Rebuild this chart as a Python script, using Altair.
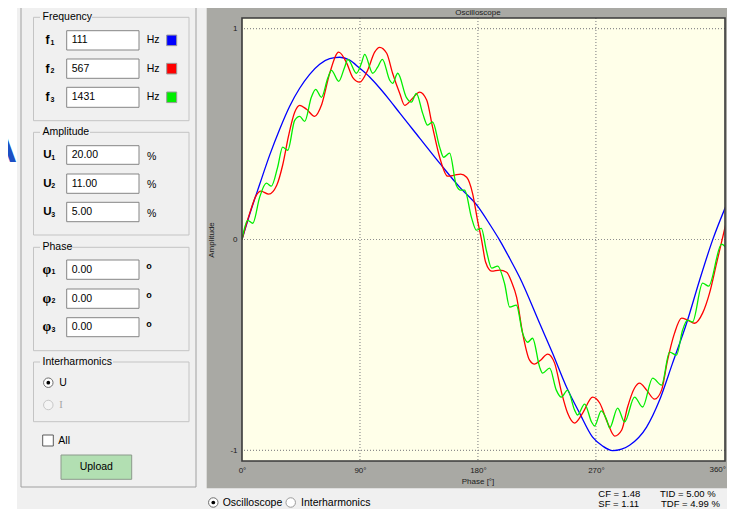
import altair as alt
import pandas as pd

# ---------------- data ----------------
series_names = ["f1", "f2", "f3"]
series_colors = ["#0000ff", "#ff0000", "#00ee00"]

blue_phase = [0, 5.87, 13.5, 21.11, 28.75, 36.38, 44.0, 51.63, 59.26, 66.88, 74.51, 82.14, 89.77,
              97.39, 105.02, 112.65, 120.27, 135.53, 150.78, 166.04, 179.77, 188.92, 196.55, 204.18,
              211.8, 227.06, 236.97, 247.65, 257.57, 267.48, 275.11, 282.73, 289.6, 295.7, 308.67,
              318.59, 328.5, 339.18, 349.1, 359.01, 368.93]
blue_amp = [0, 0.120, 0.262, 0.400, 0.523, 0.632, 0.717, 0.783, 0.831, 0.857, 0.864, 0.850, 0.812,
            0.770, 0.718, 0.661, 0.600, 0.481, 0.362, 0.248, 0.158, 0.073, -0.003, -0.089, -0.179,
            -0.397, -0.539, -0.700, -0.823, -0.937, -0.979, -1.001, -0.994, -0.975, -0.889, -0.761,
            -0.586, -0.397, -0.193, -0.003, 0.155]

red_phase = [0, 5.9, 11.0, 14.3, 20.4, 26.5, 31.0, 35.6, 40.2, 44.0, 49.3, 55.4, 60.8, 66.9, 73.8,
             79.9, 84.4, 89.8, 95.9, 101.2, 105.0, 110.4, 114.9, 120.3, 124.1, 130.2, 135.5, 140.9,
             145.4, 150.8, 156.9, 162.2, 166.8, 171.4, 175.9, 179.7, 182.8, 185.9, 190.5, 196.5,
             201.9, 205.7, 209.5, 214.1, 219.4, 223.2, 227.8, 233.2, 238.5, 243.9, 248.4, 253.8,
             259.9, 267.5, 272.9, 279.0, 284.3, 289.7, 294.2, 299.5, 303.3, 308.7, 314.8, 320.1,
             324.7, 330.0, 335.4, 339.9, 345.3, 351.4, 356.7, 362.1, 368.9]
red_amp = [0, 0.125, 0.21, 0.229, 0.215, 0.257, 0.352, 0.494, 0.603, 0.636, 0.617, 0.584, 0.640,
           0.788, 0.888, 0.836, 0.769, 0.746, 0.803, 0.888, 0.911, 0.883, 0.788, 0.693, 0.636,
           0.670, 0.699, 0.661, 0.533, 0.390, 0.300, 0.305, 0.310, 0.295, 0.219, 0.091, -0.003,
           -0.108, -0.150, -0.145, -0.155, -0.202, -0.273, -0.444, -0.572, -0.591, -0.572, -0.543,
           -0.586, -0.728, -0.823, -0.870, -0.823, -0.747, -0.775, -0.870, -0.932, -0.903, -0.794,
           -0.704, -0.681, -0.714, -0.757, -0.714, -0.572, -0.444, -0.373, -0.382, -0.397, -0.349,
           -0.254, -0.112, 0.068]

green_phase = [0, 4.3, 8.2, 13.5, 18.6, 22.4, 27.2, 31.0, 34.9, 40.2, 44.0, 47.8, 52.9, 56.2, 60.6,
               65.4, 68.2, 73.8, 78.3, 80.8, 87.3, 91.1, 93.6, 99.7, 103.5, 107.1, 112.7, 114.9,
               118.8, 125.4, 129.2, 133.0, 137.8, 141.6, 145.4, 150.8, 153.8, 158.4, 163.5, 166.8,
               169.9, 175.0, 178.8, 182.6, 186.4, 190.5, 195.0, 200.4, 204.2, 209.3, 214.1, 217.9,
               221.7, 227.1, 229.3, 234.7, 239.8, 243.6, 248.4, 253.8, 256.0, 261.4, 266.7, 269.0,
               274.1, 278.2, 280.5, 286.6, 291.9, 299.5, 305.6, 313.3, 320.1, 326.2, 331.5, 336.1,
               339.9, 343.7, 351.4, 356.0, 365.9, 368.9]
green_amp = [0, 0.091, 0.077, 0.201, 0.267, 0.253, 0.343, 0.438, 0.423, 0.565, 0.584, 0.560, 0.674,
             0.712, 0.674, 0.764, 0.802, 0.750, 0.817, 0.854, 0.788, 0.835, 0.878, 0.788, 0.817,
             0.854, 0.755, 0.740, 0.788, 0.674, 0.651, 0.693, 0.599, 0.542, 0.557, 0.438, 0.390,
             0.409, 0.257, 0.234, 0.234, 0.106, 0.044, 0.053, -0.051, -0.136, -0.126, -0.211,
             -0.320, -0.311, -0.444, -0.487, -0.468, -0.605, -0.633, -0.610, -0.714, -0.747, -0.714,
             -0.809, -0.832, -0.780, -0.865, -0.884, -0.812, -0.855, -0.893, -0.799, -0.865, -0.747,
             -0.794, -0.657, -0.690, -0.534, -0.548, -0.430, -0.382, -0.391, -0.207, -0.221, -0.022,
             -0.036]

x_ticks = [0, 90, 180, 270]
last_tick_label = "360°"
y_ticks = [-1, 0, 1]
grid_phase = [90, 180, 270]
grid_amp = [-1, 0, 1]

freq_labels = ["111", "567", "1431"]
amp_labels = ["20.00", "11.00", "5.00"]
phase_labels = ["0.00", "0.00", "0.00"]
stats_top = ["CF =  1.48", "TID =  5.00 %"]
stats_bottom = ["SF =  1.11", "TDF =  4.99 %"]

# ---------------- build ----------------
rows = []
for name, ph, am in [("f1", blue_phase, blue_amp), ("f2", red_phase, red_amp), ("f3", green_phase, green_amp)]:
    for p, a in zip(ph, am):
        rows.append({"series": name, "phase": p, "amp": a})
curves = pd.DataFrame(rows)

OX, OY = 242, 18      # page position of the plot area
W, H = 483, 443
FONT = "Liberation Sans"
one = pd.DataFrame({"k": [0]})
layers = []


def rect(x1, y1, x2, y2, fill="#ffffff", stroke=None, sw=1.0, opacity=1.0):
    kw = dict(fill=fill, fillOpacity=opacity)
    if stroke:
        kw["stroke"] = stroke
        kw["strokeWidth"] = sw
    layers.append(alt.Chart(one).mark_rect(**kw).encode(
        x=alt.value(x1 - OX), x2=alt.value(x2 - OX), y=alt.value(y1 - OY), y2=alt.value(y2 - OY)))


def text(s, x, y, size=10.5, color="#000000", align="left", weight="normal", font=FONT, angle=0):
    layers.append(alt.Chart(one).mark_text(
        text=s, align=align, baseline="middle", fontSize=size, color=color, font=font,
        fontWeight=weight, angle=angle).encode(x=alt.value(x - OX), y=alt.value(y - OY)))


def dot(x, y, size, fill, stroke=None):
    kw = dict(shape="circle", filled=True, fill=fill, size=size, opacity=1)
    if stroke:
        kw["stroke"] = stroke
        kw["strokeWidth"] = 1
    layers.append(alt.Chart(one).mark_point(**kw).encode(x=alt.value(x - OX), y=alt.value(y - OY)))


# white strip and the big letter
rect(0, 0, 17, 517, fill="#ffffff")
text("A", 17, 149, size=42, color="#1c4fc4", align="right", weight="bold")

# left control panel
rect(21, -2, 196, 487, fill="#f0f0f0", stroke="#a0a0a0")


def group(y1, y2, title, tw):
    rect(33.5, y1, 189, y2, fill="#f0f0f0", stroke="#c4c4c4")
    rect(40, y1 - 6, 42 + tw + 3, y1 + 6, fill="#f0f0f0")
    text(title, 42.5, y1, size=10.5)


group(17.3, 120.7, "Frequency", 47)
group(132.3, 235, "Amplitude", 45)
group(247.3, 350.7, "Phase", 24)
group(362, 421.7, "Interharmonics", 68)

sq_colors = series_colors
freq_rows = [(30.7, 50.0), (59.0, 78.3), (87.3, 107.3)]
for i, (y1, y2) in enumerate(freq_rows):
    cy = (y1 + y2) / 2
    text("f", 45.5, cy, size=12, weight="bold")
    text(str(i + 1), 50.5, cy + 2.5, size=7, weight="bold")
    rect(66.7, y1, 139, y2, fill="#ffffff", stroke="#858585")
    text(freq_labels[i], 71.7, cy, size=10.5)
    text("Hz", 146.7, cy, size=10.5)
    rect(166.7, cy - 5.3, 176.7, cy + 5.3, fill=sq_colors[i], stroke="#9a9a9a")

amp_rows = [(145.7, 164.3), (174.0, 193.3), (202.3, 221.7)]
for i, (y1, y2) in enumerate(amp_rows):
    cy = (y1 + y2) / 2
    text("U", 43.3, cy, size=11.5, weight="bold")
    text(str(i + 1), 51.3, cy + 2.5, size=7, weight="bold")
    rect(66.7, y1, 139, y2, fill="#ffffff", stroke="#858585")
    text(amp_labels[i], 71.7, cy, size=10.5)
    text("%", 147, cy + 1.5, size=10.5)

ph_rows = [(260.0, 279.3), (289.0, 308.3), (317.7, 336.7)]
for i, (y1, y2) in enumerate(ph_rows):
    cy = (y1 + y2) / 2
    text("φ", 42.5, cy, size=14, weight="bold", font="Liberation Serif")
    text(str(i + 1), 51.5, cy + 2.5, size=7, weight="bold")
    rect(66.7, y1, 139, y2, fill="#ffffff", stroke="#858585")
    text(phase_labels[i], 71.7, cy, size=10.5)
    text("o", 149, cy - 3.5, size=9, weight="bold", align="center")

# interharmonics radios
dot(48.3, 382.7, 90, "#ffffff", "#6d6d6d")
dot(48.3, 382.7, 14, "#000000")
text("U", 59.3, 382.7, size=10.5)
dot(48.3, 405, 90, "#f4f4f4", "#c8c8c8")
text("I", 59.3, 405, size=10.5, color="#a6a6a6", font="Liberation Serif")

# checkbox and button
rect(42.7, 435, 53.3, 446, fill="#ffffff", stroke="#5a5a5a")
text("All", 58.3, 440.5, size=10.5)
rect(61, 455, 131.7, 479.3, fill="#b2dfb2", stroke="#8c9a8c")
text("Upload", 96.3, 467.2, size=10.5, align="center")

# bottom strip (kept inside the page)
dot(213.3, 502.5, 90, "#ffffff", "#6d6d6d")
dot(213.3, 502.5, 14, "#000000")
text("Oscilloscope", 222.7, 502.5, size=10.5)
dot(290.7, 502.5, 90, "#ffffff", "#9a9a9a")
text("Interharmonics", 301, 502.5, size=10.5)
text(stats_top[0], 598.3, 493.8, size=9.5)
text(stats_top[1], 660, 493.8, size=9.5)
text(stats_bottom[0], 598.3, 503.8, size=9.5)
text(stats_bottom[1], 661, 503.8, size=9.5)

# oscilloscope grey panel and plot area
rect(206.7, 4, 740, 488.3, fill="#a9a9a4")
rect(OX, OY, OX + W, OY + H, fill="#ffffe9")

xscale = alt.Scale(domain=[0, 368.5], nice=False, zero=False)
yscale = alt.Scale(domain=[-1.05, 1.05], nice=False, zero=False)
xaxis = alt.Axis(values=x_ticks, labelExpr="datum.value + '°'",
                 labelFlush=False, labelOverlap=False, grid=False, ticks=False, domain=False,
                 labelFont=FONT, labelFontSize=8, labelColor="#202020", labelPadding=5,
                 title=None, zindex=1)
yaxis = alt.Axis(values=y_ticks, labelExpr="'' + datum.value", grid=False, ticks=False, domain=False,
                 labelFont=FONT, labelFontSize=8, labelColor="#202020", labelPadding=5,
                 title=None, zindex=1)

vgrid = alt.Chart(pd.DataFrame({"phase": grid_phase})).mark_rule(
    color="#8e8e8e", strokeDash=[1, 2], strokeWidth=1.2).encode(
    x=alt.X("phase:Q", scale=xscale, axis=xaxis))
hgrid = alt.Chart(pd.DataFrame({"amp": grid_amp})).mark_rule(
    color="#8e8e8e", strokeDash=[1, 2], strokeWidth=1.2).encode(
    y=alt.Y("amp:Q", scale=yscale, axis=yaxis))

lines = alt.Chart(curves).mark_line(clip=True, strokeWidth=1.3, interpolate="monotone").encode(
    x=alt.X("phase:Q", scale=xscale, axis=xaxis),
    y=alt.Y("amp:Q", scale=yscale, axis=yaxis),
    color=alt.Color("series:N", scale=alt.Scale(domain=series_names, range=series_colors), legend=None),
)

layers.append(vgrid)
layers.append(hgrid)
layers.append(lines)

# frame and titles
rect(OX, OY, OX + W, OY + H, fill="#ffffff", stroke="#3a3a3a", sw=1.6, opacity=0)
text("Oscilloscope", 478, 12.8, size=8, color="#202020", align="center")
text("Phase [°]", 478, 482, size=8, color="#202020", align="center")
text("Amplitude", 212, 240, size=8, color="#202020", align="center", angle=270)
text(last_tick_label, 726, 470, size=8, color="#202020", align="right")

chart = alt.layer(*layers).properties(
    width=W, height=H,
    padding={"left": OX - 8, "top": OY - 8, "right": 2, "bottom": 48},
    autosize=alt.AutoSizeParams(type="none"),
    background="#f0f0f0",
).configure_view(stroke=None)

chart.save("out.html", embed_options={"renderer": "svg", "actions": False})
